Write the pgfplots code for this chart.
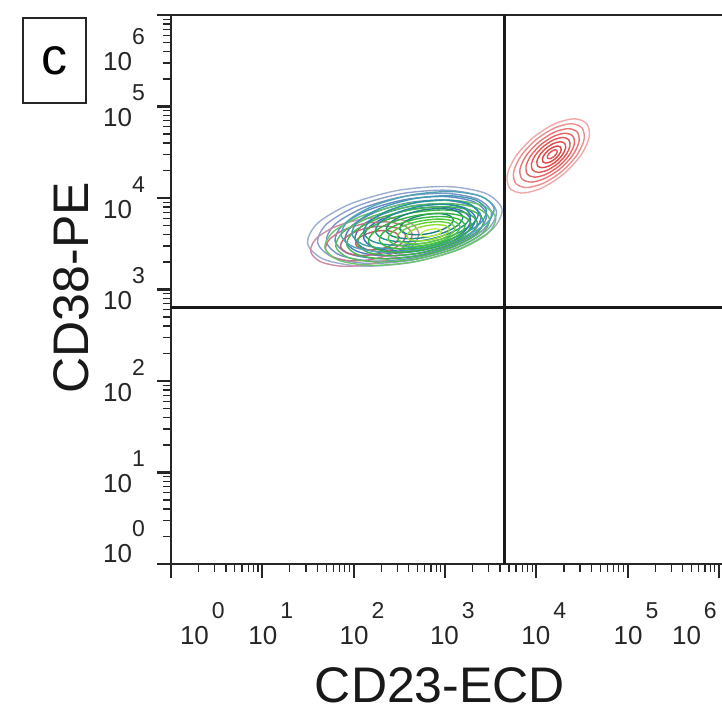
\documentclass[border=0pt]{standalone}
\usepackage{pgfplots}
\pgfplotsset{compat=1.18}
\usepackage{fontspec}
\setmainfont{Liberation Sans}
% tick label: 10 with a raised exponent
\newcommand{\tl}[2]{10\hspace{#1}\raisebox{26pt}{\fontsize{23}{23}\selectfont #2}}
\newcommand{\xl}[2]{\makebox[0pt][l]{\hspace*{#1}\tl{3pt}{#2}}}
\newcommand{\yl}[1]{\tl{0pt}{#1}}
\definecolor{cB1}{HTML}{9CAECF}
\definecolor{cB1b}{HTML}{8CA0CC}
\definecolor{cB2}{HTML}{7892C8}
\definecolor{cB2b}{HTML}{6488C8}
\definecolor{cB3}{HTML}{4F7DC6}
\definecolor{cB3b}{HTML}{4474C2}
\definecolor{cB4}{HTML}{3C68B8}
\definecolor{cT1}{HTML}{4FA7B5}
\definecolor{cT1b}{HTML}{3E9DB0}
\definecolor{cT2}{HTML}{2A93A0}
\definecolor{cT2b}{HTML}{26909A}
\definecolor{cT3}{HTML}{1F8585}
\definecolor{cT3b}{HTML}{1A8080}
\definecolor{cP1}{HTML}{C98DA5}
\definecolor{cP2}{HTML}{C77590}
\definecolor{cP3}{HTML}{BE6478}
\definecolor{cP4}{HTML}{B85A6A}
\definecolor{cG1}{HTML}{6CC46C}
\definecolor{cG1b}{HTML}{58BE5C}
\definecolor{cG2}{HTML}{44B84C}
\definecolor{cG2b}{HTML}{3CB446}
\definecolor{cG3}{HTML}{34B040}
\definecolor{cG3b}{HTML}{38B83E}
\definecolor{cG4}{HTML}{4CC83C}
\definecolor{cG4b}{HTML}{66D03A}
\definecolor{cG5}{HTML}{8EDC34}
\definecolor{cG6}{HTML}{C4EE4C}
\definecolor{cR1}{HTML}{F0A8A8}
\definecolor{cR2}{HTML}{EC8E8E}
\definecolor{cR3}{HTML}{E87676}
\definecolor{cR4}{HTML}{E66464}
\definecolor{cR5}{HTML}{E45656}
\definecolor{cR6}{HTML}{E24A4A}
\definecolor{cR7}{HTML}{E04242}
\definecolor{cR8}{HTML}{E85252}
\begin{document}
\begin{tikzpicture}[x=1pt,y=1pt]
\useasboundingbox (0,0) rectangle (722,-712);
\node[draw=black!85, line width=1.8pt, minimum width=63pt, minimum height=85pt, inner sep=0pt,
      font=\fontsize{52}{52}\selectfont] at (54.5,-60.5) {c};
\begin{axis}[
  at={(171pt,-564pt)}, anchor=south west,
  scale only axis, width=552.6pt, height=549pt,
  xmin=0, xmax=6.05, ymin=0, ymax=6,
  axis line style={line width=1.8pt, black!85},
  tick align=outside, xtick pos=left, ytick pos=left,
  major tick length=14pt, minor tick length=8pt,
  major tick style={line width=2.2pt, black!85},
  minor tick style={line width=1.3pt, black!85},
  xtick={0,1,2,3,4,5,6}, ytick={0,1,2,3,4,5,6},
  minor xtick={0.301,0.477,0.602,0.699,0.778,0.845,0.903,0.954,
    1.301,1.477,1.602,1.699,1.778,1.845,1.903,1.954,
    2.301,2.477,2.602,2.699,2.778,2.845,2.903,2.954,
    3.301,3.477,3.602,3.699,3.778,3.845,3.903,3.954,
    4.301,4.477,4.602,4.699,4.778,4.845,4.903,4.954,
    5.301,5.477,5.602,5.699,5.778,5.845,5.903,5.954},
  minor ytick={0.301,0.477,0.602,0.699,0.778,0.845,0.903,0.954,
    1.301,1.477,1.602,1.699,1.778,1.845,1.903,1.954,
    2.301,2.477,2.602,2.699,2.778,2.845,2.903,2.954,
    3.301,3.477,3.602,3.699,3.778,3.845,3.903,3.954,
    4.301,4.477,4.602,4.699,4.778,4.845,4.903,4.954,
    5.301,5.477,5.602,5.699,5.778,5.845,5.903,5.954},
  tick label style={font=\fontsize{26}{26}\selectfont, text=black!85},
  xticklabels={\xl{9pt}{0},\xl{-14pt}{1},\xl{-14pt}{2},\xl{-15pt}{3},\xl{-15pt}{4},\xl{-14pt}{5},\xl{-47pt}{6}},
  yticklabels={\raisebox{22pt}{\yl{0}},\yl{1},\yl{2},\yl{3},\yl{4},\yl{5},\raisebox{-35pt}{\yl{6}}},
  xticklabel style={anchor=base, inner sep=0pt, yshift=-66pt},
  yticklabel style={anchor=base east, inner sep=0pt, xshift=-12pt, yshift=-20pt},
  xlabel={CD23-ECD},
  xlabel style={font=\fontsize{50}{50}\selectfont, text=black!90, at={(axis description cs:0.4868,-0.2514)}, anchor=base, inner sep=0pt},
  ylabel={CD38-PE},
  ylabel style={font=\fontsize{50}{50}\selectfont, text=black!90, at={(axis description cs:-0.1484,0.503)}, anchor=base, inner sep=0pt},
  every axis plot/.append style={line width=1.4pt, smooth cycle},
]
% --- blue population contours (log10 units) ---
\addplot[cB1] coordinates {(3.624,3.878) (3.446,4.050) (3.032,4.125) (2.490,4.084) (1.968,3.937) (1.604,3.724) (1.496,3.502) (1.674,3.330) (2.088,3.255) (2.630,3.296) (3.152,3.443) (3.516,3.656)};
\addplot[cB1b] coordinates {(3.563,3.858) (3.399,4.016) (3.018,4.085) (2.520,4.047) (2.039,3.912) (1.704,3.716) (1.605,3.512) (1.769,3.354) (2.150,3.285) (2.648,3.323) (3.129,3.458) (3.464,3.654)};
\addplot[cB2] coordinates {(3.509,3.841) (3.358,3.987) (3.006,4.051) (2.545,4.016) (2.102,3.891) (1.792,3.710) (1.701,3.521) (1.852,3.375) (2.204,3.311) (2.665,3.346) (3.108,3.471) (3.418,3.652)};
\addplot[cB2b] coordinates {(3.456,3.824) (3.317,3.958) (2.994,4.016) (2.571,3.984) (2.164,3.870) (1.880,3.704) (1.796,3.530) (1.935,3.396) (2.258,3.338) (2.681,3.370) (3.088,3.484) (3.372,3.650)};
\addplot[cB3] coordinates {(3.395,3.804) (3.270,3.924) (2.980,3.977) (2.601,3.948) (2.236,3.845) (1.981,3.696) (1.905,3.540) (2.030,3.420) (2.320,3.367) (2.699,3.396) (3.064,3.499) (3.319,3.648)};
\addplot[cB3b] coordinates {(3.334,3.784) (3.223,3.890) (2.967,3.937) (2.631,3.911) (2.307,3.820) (2.081,3.688) (2.014,3.550) (2.125,3.444) (2.381,3.397) (2.717,3.423) (3.041,3.514) (3.267,3.646)};
\addplot[cB4] coordinates {(3.280,3.766) (3.182,3.861) (2.955,3.902) (2.656,3.880) (2.369,3.799) (2.169,3.682) (2.110,3.560) (2.208,3.465) (2.435,3.424) (2.734,3.446) (3.021,3.527) (3.221,3.644)};
% --- pink population contours ---
\addplot[cP1] coordinates {(2.711,3.624) (2.610,3.733) (2.378,3.785) (2.076,3.766) (1.786,3.681) (1.586,3.553) (1.529,3.416) (1.630,3.307) (1.862,3.255) (2.164,3.274) (2.454,3.359) (2.654,3.487)};
\addplot[cP2] coordinates {(2.639,3.609) (2.558,3.696) (2.372,3.738) (2.131,3.723) (1.899,3.655) (1.739,3.552) (1.693,3.443) (1.774,3.356) (1.960,3.314) (2.201,3.329) (2.433,3.397) (2.593,3.500)};
\addplot[cP3] coordinates {(2.567,3.594) (2.506,3.660) (2.367,3.691) (2.186,3.680) (2.012,3.629) (1.892,3.552) (1.857,3.470) (1.918,3.404) (2.057,3.373) (2.238,3.384) (2.412,3.435) (2.532,3.512)};
\addplot[cP4] coordinates {(2.494,3.580) (2.454,3.623) (2.361,3.644) (2.240,3.636) (2.124,3.602) (2.044,3.551) (2.022,3.496) (2.062,3.453) (2.155,3.432) (2.276,3.440) (2.392,3.474) (2.472,3.525)};
% --- green population contours (outer) ---
\addplot[cG1] coordinates {(3.556,3.785) (3.403,3.921) (3.040,3.976) (2.564,3.935) (2.104,3.810) (1.781,3.635) (1.684,3.455) (1.837,3.319) (2.200,3.264) (2.676,3.305) (3.136,3.430) (3.459,3.605)};
\addplot[cG1b] coordinates {(3.488,3.769) (3.351,3.891) (3.024,3.940) (2.596,3.904) (2.182,3.791) (1.891,3.634) (1.804,3.471) (1.941,3.349) (2.268,3.300) (2.696,3.336) (3.110,3.449) (3.401,3.606)};
\addplot[cG2] coordinates {(3.421,3.752) (3.298,3.861) (3.008,3.905) (2.627,3.872) (2.259,3.772) (2.001,3.632) (1.923,3.488) (2.046,3.379) (2.336,3.335) (2.717,3.368) (3.085,3.468) (3.343,3.608)};
\addplot[cG2b] coordinates {(3.353,3.736) (3.246,3.831) (2.992,3.869) (2.659,3.841) (2.337,3.753) (2.111,3.631) (2.043,3.504) (2.150,3.409) (2.404,3.371) (2.737,3.399) (3.059,3.487) (3.285,3.609)};
% --- teal population contours ---
\addplot[cT1] coordinates {(3.537,3.888) (3.399,4.016) (3.074,4.070) (2.648,4.036) (2.236,3.922) (1.949,3.760) (1.863,3.592) (2.001,3.464) (2.326,3.410) (2.752,3.444) (3.164,3.558) (3.451,3.720)};
\addplot[cT1b] coordinates {(3.455,3.865) (3.333,3.978) (3.047,4.025) (2.672,3.995) (2.310,3.895) (2.057,3.753) (1.981,3.605) (2.103,3.492) (2.389,3.445) (2.764,3.475) (3.126,3.575) (3.379,3.717)};
\addplot[cT2] coordinates {(3.366,3.841) (3.262,3.937) (3.019,3.978) (2.699,3.952) (2.390,3.867) (2.175,3.745) (2.110,3.619) (2.214,3.523) (2.457,3.482) (2.777,3.508) (3.086,3.593) (3.301,3.715)};
\addplot[cT2b] coordinates {(3.276,3.817) (3.190,3.896) (2.989,3.930) (2.725,3.909) (2.469,3.838) (2.291,3.737) (2.238,3.633) (2.324,3.554) (2.525,3.520) (2.789,3.541) (3.045,3.612) (3.223,3.713)};
\addplot[cT3] coordinates {(3.194,3.794) (3.125,3.858) (2.962,3.885) (2.749,3.868) (2.543,3.811) (2.399,3.730) (2.356,3.646) (2.425,3.582) (2.588,3.555) (2.801,3.572) (3.007,3.629) (3.151,3.710)};
\addplot[cT3b] coordinates {(3.091,3.766) (3.043,3.811) (2.929,3.830) (2.780,3.818) (2.636,3.778) (2.535,3.721) (2.505,3.662) (2.553,3.617) (2.667,3.598) (2.816,3.610) (2.960,3.650) (3.061,3.707)};
% --- green population contours (inner, lime core) ---
\addplot[cG3] coordinates {(3.286,3.719) (3.194,3.801) (2.976,3.834) (2.690,3.809) (2.414,3.734) (2.221,3.629) (2.162,3.521) (2.254,3.439) (2.472,3.406) (2.758,3.431) (3.034,3.506) (3.227,3.611)};
\addplot[cG3b] coordinates {(3.218,3.703) (3.142,3.771) (2.960,3.798) (2.722,3.778) (2.492,3.715) (2.330,3.628) (2.282,3.537) (2.358,3.469) (2.540,3.442) (2.778,3.462) (3.008,3.525) (3.170,3.612)};
\addplot[cG4] coordinates {(3.164,3.689) (3.100,3.746) (2.947,3.770) (2.747,3.752) (2.554,3.700) (2.419,3.626) (2.378,3.551) (2.442,3.494) (2.595,3.470) (2.795,3.488) (2.988,3.540) (3.123,3.614)};
\addplot[cG4b] coordinates {(3.110,3.676) (3.058,3.722) (2.935,3.741) (2.773,3.727) (2.617,3.685) (2.507,3.625) (2.474,3.564) (2.526,3.518) (2.649,3.499) (2.811,3.513) (2.967,3.555) (3.077,3.615)};
\addplot[cG5] coordinates {(3.049,3.661) (3.011,3.695) (2.920,3.709) (2.801,3.699) (2.686,3.668) (2.605,3.624) (2.581,3.579) (2.619,3.545) (2.710,3.531) (2.829,3.541) (2.944,3.572) (3.025,3.616)};
\addplot[cG6] coordinates {(2.961,3.640) (2.943,3.656) (2.899,3.663) (2.842,3.658) (2.787,3.643) (2.748,3.622) (2.737,3.600) (2.755,3.584) (2.799,3.577) (2.856,3.582) (2.911,3.597) (2.950,3.618)};
% --- red population contours (CD23+ CD38+) ---
\addplot[cR1] coordinates {(4.551,4.814) (4.412,4.866) (4.196,4.809) (3.963,4.659) (3.774,4.455) (3.681,4.252) (3.709,4.106) (3.848,4.054) (4.064,4.111) (4.297,4.261) (4.486,4.465) (4.579,4.668)};
\addplot[cR2] coordinates {(4.499,4.767) (4.380,4.812) (4.194,4.763) (3.993,4.634) (3.831,4.459) (3.751,4.284) (3.775,4.159) (3.894,4.114) (4.080,4.163) (4.281,4.292) (4.443,4.467) (4.523,4.642)};
\addplot[cR3] coordinates {(4.447,4.721) (4.347,4.758) (4.192,4.717) (4.024,4.609) (3.888,4.462) (3.821,4.316) (3.841,4.211) (3.941,4.174) (4.096,4.215) (4.264,4.323) (4.400,4.470) (4.467,4.616)};
\addplot[cR4] coordinates {(4.399,4.677) (4.317,4.708) (4.190,4.674) (4.052,4.585) (3.941,4.465) (3.886,4.345) (3.903,4.259) (3.985,4.228) (4.112,4.262) (4.250,4.351) (4.361,4.471) (4.416,4.591)};
\addplot[cR5] coordinates {(4.355,4.637) (4.290,4.662) (4.188,4.635) (4.079,4.565) (3.990,4.469) (3.946,4.373) (3.959,4.305) (4.024,4.280) (4.126,4.307) (4.235,4.377) (4.324,4.473) (4.368,4.569)};
\addplot[cR6] coordinates {(4.310,4.597) (4.262,4.615) (4.186,4.595) (4.105,4.543) (4.038,4.471) (4.006,4.400) (4.016,4.349) (4.064,4.331) (4.140,4.351) (4.221,4.403) (4.288,4.475) (4.320,4.546)};
\addplot[cR7] coordinates {(4.266,4.556) (4.234,4.568) (4.184,4.555) (4.131,4.521) (4.087,4.474) (4.066,4.427) (4.072,4.394) (4.104,4.382) (4.154,4.395) (4.207,4.429) (4.251,4.476) (4.272,4.523)};
\addplot[cR8] coordinates {(4.225,4.520) (4.208,4.527) (4.182,4.520) (4.154,4.502) (4.131,4.477) (4.120,4.453) (4.123,4.436) (4.140,4.429) (4.166,4.436) (4.194,4.454) (4.217,4.479) (4.228,4.503)};
% --- quadrant gates ---
\addplot[black!90, line width=3pt, sharp plot] coordinates {(3.647,0) (3.647,6)};
\addplot[black!90, line width=3pt, sharp plot] coordinates {(0,2.80) (6.05,2.80)};
\end{axis}
\end{tikzpicture}
\end{document}
